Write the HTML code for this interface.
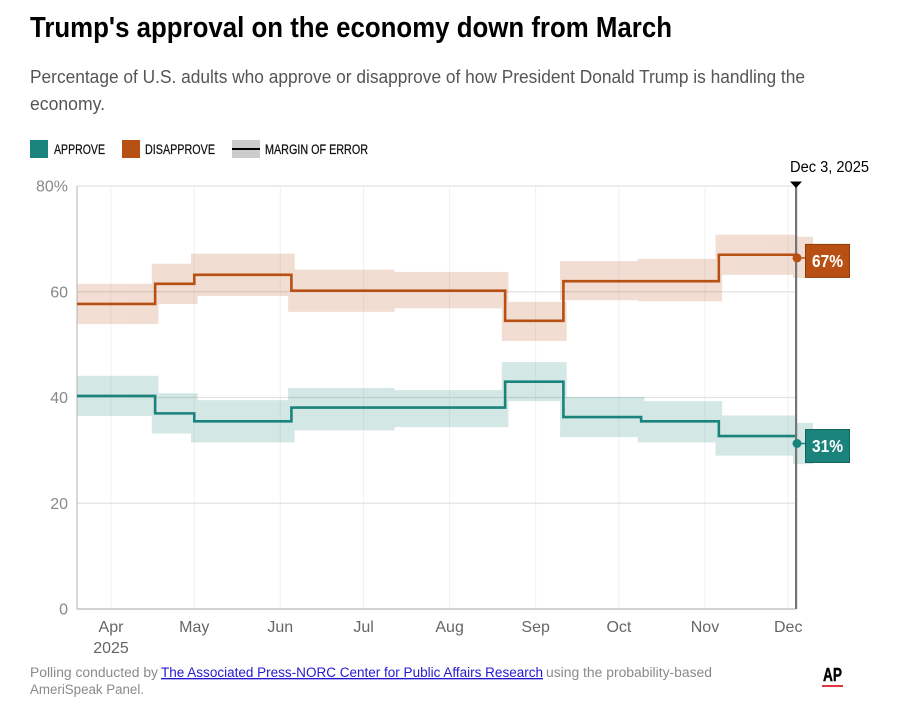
<!DOCTYPE html>
<html lang="en">
<head>
<meta charset="utf-8">
<title>Trump's approval on the economy down from March</title>
<style>
html,body{margin:0;padding:0;background:#fff;width:899px;height:715px;overflow:hidden}
svg{display:block;font-family:"Liberation Sans",sans-serif}
</style>
</head>
<body>
<svg id="chart" width="899" height="715" viewBox="0 0 899 715" xmlns="http://www.w3.org/2000/svg">
  <rect width="899" height="715" fill="#ffffff"/>
  <text x="30" y="37" font-size="28.5" font-weight="700" fill="#000" textLength="642" lengthAdjust="spacingAndGlyphs">Trump's approval on the economy down from March</text>
  <text x="30" y="83" font-size="18" fill="#555" textLength="775" lengthAdjust="spacingAndGlyphs">Percentage of U.S. adults who approve or disapprove of how President Donald Trump is handling the</text>
  <text x="30" y="110" font-size="18" fill="#555" textLength="75" lengthAdjust="spacingAndGlyphs">economy.</text>

  <g>
    <rect x="30" y="140" width="18" height="18" fill="#1a837c"/>
    <text x="54" y="154" font-size="13.5" fill="#111" stroke="#111" stroke-width="0.25" textLength="51" lengthAdjust="spacingAndGlyphs">APPROVE</text>
    <rect x="122" y="140" width="18" height="18" fill="#b84f13"/>
    <text x="145" y="154" font-size="13.5" fill="#111" stroke="#111" stroke-width="0.25" textLength="70" lengthAdjust="spacingAndGlyphs">DISAPPROVE</text>
    <rect x="232" y="140" width="28" height="18" fill="#cccccc"/>
    <rect x="232" y="148" width="28" height="2" fill="#000"/>
    <text x="265" y="154" font-size="13.5" fill="#111" stroke="#111" stroke-width="0.25" textLength="103" lengthAdjust="spacingAndGlyphs">MARGIN OF ERROR</text>
  </g>

  <g id="grid"></g>
  <g id="bands"></g>
  <g id="axes"></g>
  <g id="lines"></g>
  <g id="marker"></g>

  <text x="30" y="677" font-size="13.5" fill="#8a8a8a" textLength="128" lengthAdjust="spacingAndGlyphs">Polling conducted by</text>
  <a href="#"><text x="161" y="677" font-size="13.5" fill="#2417d0" text-decoration="underline" textLength="382" lengthAdjust="spacingAndGlyphs">The Associated Press-NORC Center for Public Affairs Research</text></a>
  <text x="546" y="677" font-size="13.5" fill="#8a8a8a" textLength="166" lengthAdjust="spacingAndGlyphs">using the probability-based</text>
  <text x="30" y="694" font-size="13.5" fill="#8a8a8a" textLength="114" lengthAdjust="spacingAndGlyphs">AmeriSpeak Panel.</text>
  <text x="823" y="681" font-size="18" font-weight="700" fill="#000" stroke="#000" stroke-width="0.4" textLength="19" lengthAdjust="spacingAndGlyphs">AP</text>
  <rect x="822" y="685" width="21" height="2" fill="#e0383e"/>
</svg>
<script>
// Chart data (days counted from Apr 1, 2025)
const stepStartDays = [-12.25, 15.9, 30, 65, 101, 142, 163, 191, 219, 246];
const approveValues = [40.3, 37, 35.5, 38.1, 38.1, 43, 36.3, 35.5, 32.7, 31.3];
const disapproveValues = [57.7, 61.5, 63.2, 60.2, 60.2, 54.5, 62, 62, 67, 66.4];
const approveMargins = [3.8, 3.8, 4, 4, 3.5, 3.7, 3.8, 3.9, 3.8, 3.9];
const disapproveMargins = [3.8, 3.8, 4, 4, 3.45, 3.7, 3.7, 4, 3.8, 3.9];
const approveBandCenters = [40.3, 37, 35.5, 37.8, 37.9, 43, 36.3, 35.4, 32.8, 31.3];
const disapproveBandCenters = [57.7, 61.5, 63.2, 60.2, 60.3, 54.4, 62.1, 62.2, 67, 66.5];
const yTickValues = [0, 20, 40, 60, 80];
const yTickLabels = ['0', '20', '40', '60', '80%'];
const monthDays = [0, 30, 61, 91, 122, 153, 183, 214, 244];
const monthLabels = ['Apr', 'May', 'Jun', 'Jul', 'Aug', 'Sep', 'Oct', 'Nov', 'Dec'];
const latestDate = ['Dec 3, 2025'];
const latestApproveLabel = ['31%'];
const latestDisapproveLabel = ['67%'];
const dayDomain = [-12.25, 246.8];
const pctDomain = [0, 80];

const NS = 'http://www.w3.org/2000/svg';
const plot = { left: 77, right: 796, top: 186, bottom: 609 };
const xScale = d => plot.left + (d - dayDomain[0]) / (dayDomain[1] - dayDomain[0]) * (plot.right - plot.left);
const yScale = v => plot.bottom - (v - pctDomain[0]) / (pctDomain[1] - pctDomain[0]) * (plot.bottom - plot.top);
function make(tag, attrs, parent, text) {
  const el = document.createElementNS(NS, tag);
  for (const k in attrs) el.setAttribute(k, attrs[k]);
  if (text !== undefined) el.textContent = text;
  parent.appendChild(el);
  return el;
}
const grid = document.getElementById('grid');
const axes = document.getElementById('axes');
const bands = document.getElementById('bands');
const lines = document.getElementById('lines');
const marker = document.getElementById('marker');

monthDays.forEach((d, i) => {
  const g = make('line', { x1: xScale(d), x2: xScale(d), y1: plot.top, y2: plot.bottom, stroke: '#f0f0f0', 'stroke-width': 1 }, grid);
  
  
  const t = make('text', { x: xScale(d), y: 632, 'font-size': 16, fill: '#666', 'text-anchor': 'middle' }, axes, monthLabels[i]);
  
  
});
const yearLabel = make('text', { x: xScale(monthDays[0]), y: 653, 'font-size': 16, fill: '#666', 'text-anchor': 'middle' }, axes, '2025');



yTickValues.forEach((v, i) => {
  if (v > 0) {
    const g = make('line', { x1: plot.left, x2: plot.right, y1: yScale(v), y2: yScale(v), stroke: '#e2e2e2', 'stroke-width': 1.2 }, grid);
    
    
  }
  const t = make('text', { x: 68, y: yScale(v) + 5.5, 'font-size': 16, fill: '#888', 'text-anchor': 'end' }, axes, yTickLabels[i]);
  
  
});
const yAxis = make('line', { x1: plot.left, x2: plot.left, y1: plot.top, y2: plot.bottom, stroke: '#bdbdbd', 'stroke-width': 1.2 }, axes);


const xAxis = make('line', { x1: plot.left, x2: plot.right, y1: plot.bottom, y2: plot.bottom, stroke: '#c4c4c4', 'stroke-width': 1.4 }, axes);



function drawBands(centers, margins, color, name) {
  const pad = 3.3;
  const group = make('g', { opacity: 0.19 }, bands);
  
  
  centers.forEach((c, i) => {
    const isLast = i === centers.length - 1;
    const x0 = Math.max(plot.left, isLast ? xScale(dayDomain[1]) - 3 : xScale(stepStartDays[i]) - pad);
    const x1 = isLast ? 813 : xScale(stepStartDays[i + 1]) + pad;
    const y0 = yScale(c + margins[i]);
    const y1 = yScale(c - margins[i]);
    const r = make('rect', { x: x0, y: y0, width: x1 - x0, height: y1 - y0, fill: color }, group);
    
    
  });
}
drawBands(disapproveBandCenters, disapproveMargins, '#b84f13', 'disapprove-margin-band');
drawBands(approveBandCenters, approveMargins, '#1a837c', 'approve-margin-band');

function stepPath(values) {
  let d = '';
  for (let i = 0; i < values.length - 1; i++) {
    const x0 = xScale(stepStartDays[i]);
    const x1 = i === values.length - 2 ? plot.right : xScale(stepStartDays[i + 1]);
    const y = yScale(values[i]);
    d += (i === 0 ? 'M' : 'L') + x0 + ' ' + y + 'L' + x1 + ' ' + y;
  }
  return d;
}
const disapproveLine = make('path', { d: stepPath(disapproveValues), fill: 'none', stroke: '#b84f13', 'stroke-width': 2.6 }, lines);


const approveLine = make('path', { d: stepPath(approveValues), fill: 'none', stroke: '#1a837c', 'stroke-width': 2.6 }, lines);



const rule = make('rect', { x: plot.right - 1, y: plot.top, width: 2.2, height: plot.bottom - plot.top, fill: '#757575' }, marker);


const tri = make('path', { d: 'M790 181.5L802 181.5L796 188Z', fill: '#000' }, marker);


const dateLabel = make('text', { x: 790, y: 172, 'font-size': 15.5, fill: '#000', textLength: 79, lengthAdjust: 'spacingAndGlyphs' }, marker, latestDate[0]);



function callout(value, label, color, stroke, boxTopOffset, name) {
  const y = yScale(value);
  const conn = make('line', { x1: plot.right, x2: 806, y1: y, y2: y, stroke: color, 'stroke-width': 1.5 }, marker);
  
  
  const dot = make('circle', { cx: plot.right + 1, cy: y, r: 4.5, fill: color }, marker);
  
  
  const box = make('rect', { x: 805.5, y: y + boxTopOffset, width: 44, height: 33, fill: color, stroke: stroke, 'stroke-width': 1 }, marker);
  
  
  const t = make('text', { x: 827.5, y: y + boxTopOffset + 22.5, 'font-size': 17.5, 'font-weight': 700, fill: '#fff', 'text-anchor': 'middle', textLength: 31, lengthAdjust: 'spacingAndGlyphs' }, marker, label);
  
  
}
callout(disapproveValues[disapproveValues.length - 1], latestDisapproveLabel[0], '#b84f13', '#8f3c0d', -13.5, 'disapprove-callout');
callout(approveValues[approveValues.length - 1], latestApproveLabel[0], '#1a837c', '#12635e', -14, 'approve-callout');
</script>
</body>
</html>
